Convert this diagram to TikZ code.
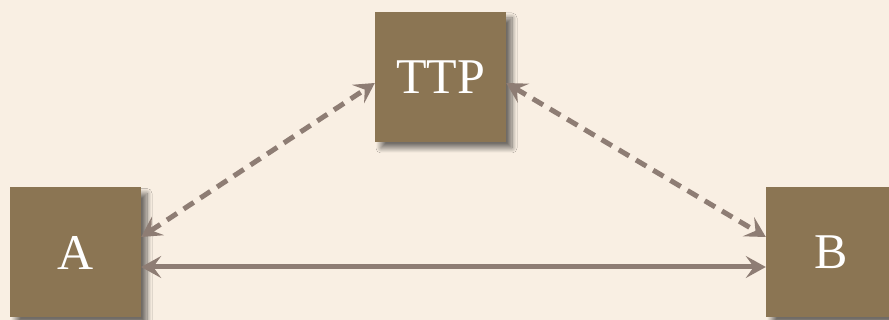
\documentclass[tikz,border=0pt]{standalone}
\usepackage{fontspec}
\setmainfont{Liberation Serif}
\usetikzlibrary{arrows.meta,shadows.blur}
\definecolor{bgc}{HTML}{F9EFE3}
\definecolor{boxc}{HTML}{8B7553}
\definecolor{arrc}{HTML}{8E7D74}
\tikzset{
  party/.style={fill=boxc, minimum width=131pt, minimum height=130pt, inner sep=0pt,
    text=white, font=\fontsize{50}{54}\selectfont,
    blur shadow={shadow xshift=6pt, shadow yshift=-6pt, shadow blur radius=5pt, shadow blur steps=10, shadow opacity=55}},
  link/.style={draw=arrc, line width=5pt, {Stealth[length=20pt,width=22pt,inset=8pt]}-{Stealth[length=20pt,width=22pt,inset=8pt]}},
  dlink/.style={link, dash pattern=on 12pt off 8pt}
}
\begin{document}
\begin{tikzpicture}[x=1pt,y=-1pt]
\fill[bgc] (0,0) rectangle (889,320);
\useasboundingbox (0,0) rectangle (889,320);
\node[party] (ttp) at (440.5,77) {TTP};
\node[party] (a) at (75.5,252.5) {A};
\node[party] (b) at (831.5,252.5) {B};
\draw[dlink] (a.east |- 0,237) -- (ttp.west |- 0,83);
\draw[dlink] (ttp.east |- 0,83) -- (b.west |- 0,237);
\draw[link] (a.east |- 0,267) -- (b.west |- 0,267);
\end{tikzpicture}
\end{document}
